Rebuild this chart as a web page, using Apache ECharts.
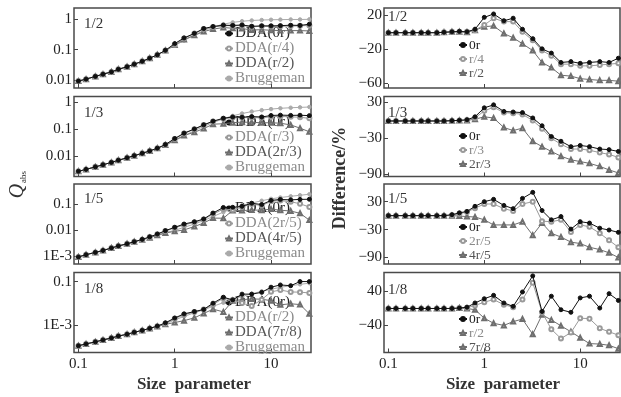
<!DOCTYPE html>
<html>
<head>
<meta charset="utf-8">
<script src="https://cdn.jsdelivr.net/npm/echarts@6/dist/echarts.min.js"></script>
<style>
html, body { margin: 0; padding: 0; background: #fff; }
#chart { width: 621px; height: 397px; }
</style>
</head>
<body>
<div id="chart"></div>
<script>
// size parameter (x) shared by all panels
const sizeParam = [0.1, 0.12, 0.15, 0.18, 0.22, 0.26, 0.32, 0.38, 0.46, 0.55, 0.66, 0.8, 1.0, 1.25, 1.6, 2.0, 2.5, 3.2, 4.0, 5.0, 6.3, 8.0, 10, 12.5, 16, 20, 25];

const fractions = ["1/2", "1/3", "1/5", "1/8"];

// left column: Q_abs
const brugg1 = [0.0095, 0.011, 0.0135, 0.016, 0.019, 0.023, 0.028, 0.034, 0.042, 0.053, 0.068, 0.092, 0.135, 0.2, 0.3, 0.42, 0.55, 0.68, 0.78, 0.85, 0.9, 0.93, 0.95, 0.96, 0.97, 0.97, 0.98];
const dda0r1 = [0.0094, 0.0109, 0.0134, 0.0158, 0.0188, 0.0228, 0.0277, 0.0337, 0.0416, 0.0527, 0.068, 0.095, 0.158, 0.242, 0.34, 0.49, 0.57, 0.63, 0.62, 0.64, 0.58, 0.6, 0.6, 0.61, 0.63, 0.62, 0.68];
const ddaB1 = [0.0094, 0.0109, 0.0134, 0.0158, 0.0188, 0.0228, 0.0277, 0.0337, 0.0416, 0.0527, 0.068, 0.094, 0.146, 0.232, 0.336, 0.47, 0.55, 0.61, 0.61, 0.61, 0.56, 0.58, 0.57, 0.58, 0.59, 0.6, 0.62];
const ddaC1 = [0.0094, 0.0109, 0.0134, 0.0158, 0.0188, 0.0228, 0.0277, 0.0337, 0.0416, 0.0527, 0.068, 0.094, 0.143, 0.214, 0.294, 0.39, 0.47, 0.53, 0.5, 0.49, 0.44, 0.45, 0.43, 0.42, 0.42, 0.42, 0.41];

const brugg2 = [0.0028, 0.0033, 0.0041, 0.0049, 0.006, 0.0072, 0.0089, 0.0107, 0.013, 0.016, 0.02, 0.026, 0.038, 0.058, 0.09, 0.13, 0.18, 0.25, 0.32, 0.39, 0.46, 0.52, 0.57, 0.61, 0.64, 0.66, 0.68];
const dda0r2 = [0.0028, 0.0033, 0.0041, 0.0049, 0.006, 0.0072, 0.0089, 0.0107, 0.013, 0.016, 0.0202, 0.0276, 0.046, 0.073, 0.104, 0.148, 0.203, 0.26, 0.29, 0.285, 0.3, 0.29, 0.33, 0.34, 0.333, 0.337, 0.326];
const ddaB2 = [0.0028, 0.0033, 0.0041, 0.0049, 0.006, 0.0072, 0.0089, 0.0107, 0.013, 0.016, 0.02, 0.027, 0.044, 0.071, 0.102, 0.146, 0.198, 0.25, 0.275, 0.273, 0.276, 0.27, 0.296, 0.305, 0.294, 0.284, 0.258];
const ddaC2 = [0.0028, 0.0033, 0.0041, 0.0049, 0.006, 0.0072, 0.0089, 0.0107, 0.013, 0.016, 0.02, 0.0265, 0.04, 0.06, 0.079, 0.108, 0.157, 0.163, 0.179, 0.187, 0.184, 0.177, 0.177, 0.171, 0.147, 0.112, 0.082];

const brugg3 = [0.0009, 0.0011, 0.00135, 0.0016, 0.002, 0.0024, 0.0029, 0.0035, 0.0042, 0.0051, 0.0063, 0.0078, 0.0097, 0.0125, 0.017, 0.023, 0.033, 0.049, 0.068, 0.09, 0.11, 0.135, 0.16, 0.18, 0.2, 0.22, 0.24];
const dda0r3 = [0.0009, 0.0011, 0.00135, 0.0016, 0.002, 0.0024, 0.0029, 0.0035, 0.0043, 0.0054, 0.0069, 0.0094, 0.0126, 0.0169, 0.0207, 0.0265, 0.045, 0.074, 0.075, 0.082, 0.108, 0.096, 0.139, 0.151, 0.146, 0.152, 0.154];
const ddaB3 = [0.0009, 0.0011, 0.00135, 0.0016, 0.002, 0.0024, 0.0029, 0.0035, 0.0042, 0.0053, 0.0068, 0.009, 0.0121, 0.0156, 0.0196, 0.0253, 0.041, 0.064, 0.06, 0.078, 0.1, 0.088, 0.128, 0.137, 0.124, 0.103, 0.077];
const ddaC3 = [0.0009, 0.0011, 0.00135, 0.0016, 0.002, 0.0024, 0.0029, 0.0035, 0.0042, 0.005, 0.0062, 0.0076, 0.0088, 0.01, 0.0136, 0.0184, 0.0287, 0.0284, 0.057, 0.056, 0.059, 0.058, 0.064, 0.058, 0.054, 0.044, 0.024];

const brugg4 = [0.00012, 0.000145, 0.00018, 0.00022, 0.00027, 0.00033, 0.0004, 0.00049, 0.0006, 0.00074, 0.00092, 0.00118, 0.0018, 0.0026, 0.0038, 0.0052, 0.0075, 0.011, 0.016, 0.021, 0.028, 0.036, 0.045, 0.055, 0.065, 0.075, 0.085];
const dda0r4 = [0.00012, 0.000145, 0.00018, 0.00022, 0.00027, 0.00033, 0.0004, 0.00049, 0.0006, 0.00074, 0.00094, 0.00132, 0.0022, 0.0034, 0.0043, 0.0054, 0.0104, 0.0194, 0.0147, 0.0269, 0.0269, 0.0324, 0.0558, 0.0704, 0.065, 0.1005, 0.1003];
const ddaB4 = [0.00012, 0.000145, 0.00018, 0.00022, 0.00027, 0.00033, 0.0004, 0.00049, 0.0006, 0.00074, 0.00093, 0.00125, 0.00205, 0.0031, 0.0041, 0.0053, 0.009, 0.0176, 0.0144, 0.0105, 0.0078, 0.0151, 0.0342, 0.0413, 0.0338, 0.033, 0.0306];
const ddaC4 = [0.00012, 0.000145, 0.00018, 0.00022, 0.00027, 0.00033, 0.0004, 0.00049, 0.0006, 0.00074, 0.00091, 0.00113, 0.00137, 0.00166, 0.00224, 0.00354, 0.00555, 0.00418, 0.0134, 0.0151, 0.0162, 0.0158, 0.0135, 0.0088, 0.0098, 0.009, 0.0034];

// right column: difference in %
const diff0r1 = [-1, -1, -1, -1, -1, -1, -1, -0.5, 0, 0.5, 0, 3, 17, 21, 13, 16, 3, -8, -20, -25, -36, -35, -37, -36, -35, -36, -31];
const diffB1 = [-1, -1, -1, -1, -1, -1, -1, -0.5, 0, 0, 0, 2, 8, 16, 12, 12, 0, -10, -22, -28, -38, -38, -40, -40, -39, -38, -37];
const diffC1 = [-1, -1, -1, -1, -1, -1, -1, -0.5, 0, 0, -0.5, 2, 6, 7, -2, -7, -14, -22, -36, -42, -51, -52, -55, -56, -57, -57, -58];

const diff0r2 = [-1, -1, -1, -1, -1, -1, -1, -1, -0.5, 0, 1, 6, 21, 26, 15, 14, 13, 4, -9, -27, -35, -44, -42, -44, -48, -49, -52];
const diffB2 = [-1, -1, -1, -1, -1, -1, -1, -1, -0.5, 0, 0.5, 4, 16, 22, 13, 12, 10, 0, -14, -30, -40, -48, -48, -50, -54, -57, -62];
const diffC2 = [-1, -1, -1, -1, -1, -1, -1, -1, -0.5, 0, 0, 2, 6, 4, -12, -17, -13, -35, -44, -52, -60, -66, -69, -72, -77, -83, -88];

const diff0r3 = [0, 0, 0, 0, 0, 0, 0, 0, 2, 6, 9, 20, 30, 35, 22, 15, 37, 50, 11, -9, -2, -29, -13, -16, -27, -31, -36];
const diffB3 = [0, 0, 0, 0, 0, 0, 0, 0, 1, 4, 8, 16, 25, 25, 15, 10, 25, 30, -12, -13, -9, -35, -20, -24, -38, -53, -68];
const diffC3 = [0, 0, 0, 0, 0, 0, 0, 0, 0, -1, -2, -3, -9, -20, -20, -20, -13, -42, -16, -38, -46, -57, -60, -68, -73, -80, -90];

const diff0r4 = [-1, -1, -1, -1, -1, -1, -1, -1, -1, 0, 2, 12, 22, 30, 12, 4, 38, 76, -8, 28, -4, -10, 24, 28, 0, 34, 18];
const diffB4 = [-1, -1, -1, -1, -1, -1, -1, -1, -1, 0, 1, 6, 14, 20, 8, 2, 20, 60, -10, -50, -72, -58, -24, -25, -48, -56, -64];
const diffC4 = [-1, -1, -1, -1, -1, -1, -1, -1, -1, 0, -1, -4, -24, -36, -41, -32, -26, -62, -16, -28, -42, -56, -70, -84, -85, -88, -96];

// legend names
const leftNames = [
  ["DDA(0r)", "DDA(r/4)", "DDA(r/2)", "Bruggeman"],
  ["DDA(0r)", "DDA(r/3)", "DDA(2r/3)", "Bruggeman"],
  ["DDA(0r)", "DDA(2r/5)", "DDA(4r/5)", "Bruggeman"],
  ["DDA(0r)", "DDA(r/2)", "DDA(7r/8)", "Bruggeman"]
];
const rightNames = [
  ["0r", "r/4", "r/2"],
  ["0r", "r/3", "2r/3"],
  ["0r", "2r/5", "4r/5"],
  ["0r", "r/2", "7r/8"]
];

// axis ranges and tick labels
const leftRange = [[0.0056, 2.3], [0.0018, 1.67], [0.00048, 0.6], [0.000059, 0.26]];
const leftTicks = [[0.01, 0.1, 1], [0.01, 0.1, 1], [0.001, 0.01, 0.1], [0.001, 0.1]];
const rightRange = [[-66, 28], [-94, 40], [-104, 68], [-105, 84]];
const rightTicks = [[-60, -20, 20], [-90, -30, 30], [-90, -30, 30], [-40, 40]];
const xTicks = [0.1, 1, 10];

const leftData = [
  [dda0r1, ddaB1, ddaC1, brugg1],
  [dda0r2, ddaB2, ddaC2, brugg2],
  [dda0r3, ddaB3, ddaC3, brugg3],
  [dda0r4, ddaB4, ddaC4, brugg4]
];
const rightData = [
  [diff0r1, diffB1, diffC1],
  [diff0r2, diffB2, diffC2],
  [diff0r3, diffB3, diffC3],
  [diff0r4, diffB4, diffC4]
];

const SERIF = "Liberation Serif";
const rowTop = [8, 96.5, 184, 272.5];
const rowH = 80;
const styles = [
  { color: "#111", symbol: "circle", size: 4 },
  { color: "#9a9a9a", symbol: "emptyCircle", size: 4 },
  { color: "#6e6e6e", symbol: "emptyTriangle", size: 4 },
  { color: "#aaa", symbol: "circle", size: 3.5 }
];
const textColors = ["#222", "#8a8a8a", "#555", "#8a8a8a"];

const chart = echarts.init(document.getElementById("chart"));

const fmtLog = v => (v >= 0.01 ? String(v) : "1E" + Math.round(Math.log10(v)));
const fmtLin = v => (v < 0 ? "\u2212" + Math.abs(v) : String(v));

const grids = [];
const xAxes = [];
const yAxes = [];
const series = [];
const legends = [];
const graphics = [];

const tickStyle = { inside: true, length: 4, lineStyle: { color: "#444", width: 1 } };
const labelStyle = { fontFamily: SERIF, fontSize: 15, color: "#222" };

for (let col = 0; col < 2; col++) {
  for (let row = 0; row < 4; row++) {
    const g = grids.length;
    grids.push({
      left: col === 0 ? 74 : 384,
      width: col === 0 ? 237 : 236,
      top: rowTop[row],
      height: rowH,
      show: true,
      borderColor: "#4a4a4a",
      borderWidth: 1.5
    });
    xAxes.push({
      type: "log",
      gridIndex: g,
      position: "bottom",
      min: 0.09,
      max: 26,
      axisLine: { show: false, onZero: false },
      splitLine: { show: false },
      axisTick: Object.assign({ customValues: xTicks }, tickStyle),
      axisLabel: Object.assign({
        show: row === 3,
        customValues: xTicks,
        margin: 4,
        formatter: v => String(v)
      }, labelStyle)
    });
    if (col === 0) {
      yAxes.push({
        type: "log",
        gridIndex: g,
        min: leftRange[row][0],
        max: leftRange[row][1],
        axisLine: { show: false, onZero: false },
        splitLine: { show: false },
        axisTick: Object.assign({ customValues: leftTicks[row] }, tickStyle),
        axisLabel: Object.assign({ customValues: leftTicks[row], margin: 2, formatter: fmtLog }, labelStyle)
      });
    } else {
      yAxes.push({
        type: "value",
        gridIndex: g,
        min: rightRange[row][0],
        max: rightRange[row][1],
        axisLine: { show: false, onZero: false },
        splitLine: { show: false },
        axisTick: Object.assign({ customValues: rightTicks[row] }, tickStyle),
        axisLabel: Object.assign({ customValues: rightTicks[row], margin: 2, formatter: fmtLin }, labelStyle)
      });
    }

    const names = col === 0 ? leftNames[row] : rightNames[row];
    const sets = col === 0 ? leftData[row] : rightData[row];
    for (let k = sets.length - 1; k >= 0; k--) {
      const st = styles[k];
      series.push({
        name: names[k],
        type: "line",
        xAxisIndex: g,
        yAxisIndex: g,
        data: sizeParam.map((x, i) => [x, sets[k][i]]),
        symbol: st.symbol,
        symbolSize: st.size,
        lineStyle: { color: st.color, width: 1 },
        itemStyle: { color: st.color, borderColor: st.color, borderWidth: 1 },
        z: 10 - k,
        silent: true
      });
    }

    legends.push({
      orient: "vertical",
      left: col === 0 ? 224 : 458,
      top: col === 0 ? [26, 115, 201, 295][row] : [38, 129, 220, 312][row],
      padding: 0,
      itemGap: 0,
      itemWidth: 8,
      itemHeight: 5,
      data: names.map((n, k) => ({ name: n, textStyle: { color: textColors[k] } })),
      textStyle: {
        fontFamily: SERIF,
        fontSize: col === 0 ? 15 : 13.5,
        lineHeight: col === 0 ? 14.7 : 14,
        padding: [0, 0, 0, -3]
      },
      selectedMode: false
    });

    graphics.push({
      type: "text",
      x: col === 0 ? 84 : 388,
      y: col === 0 ? [24, 113, 199, 289][row] : [17, 113, 199, 290][row],
      style: {
        text: fractions[row],
        font: "15px " + SERIF,
        fill: "#333",
        textVerticalAlign: "middle"
      }
    });
  }
}

graphics.push(
  {
    type: "text", x: 194, y: 385,
    style: { text: "Size  parameter", font: "bold 17px " + SERIF, fill: "#333", textAlign: "center", textVerticalAlign: "middle" }
  },
  {
    type: "text", x: 503, y: 385,
    style: { text: "Size  parameter", font: "bold 17px " + SERIF, fill: "#333", textAlign: "center", textVerticalAlign: "middle" }
  },
  {
    type: "text", x: 340, y: 178, rotation: Math.PI / 2,
    style: { text: "Difference/%", font: "bold 18px " + SERIF, fill: "#333", textAlign: "center", textVerticalAlign: "middle" }
  },
  {
    type: "text", x: 18, y: 191, rotation: Math.PI / 2,
    style: { text: "Q", font: "italic 20px " + SERIF, fill: "#333", textAlign: "center", textVerticalAlign: "middle" }
  },
  {
    type: "text", x: 24, y: 177, rotation: Math.PI / 2,
    style: { text: "abs", font: "9px " + SERIF, fill: "#333", textAlign: "center", textVerticalAlign: "middle" }
  }
);

chart.setOption({
  animation: false,
  backgroundColor: "#fff",
  grid: grids,
  xAxis: xAxes,
  yAxis: yAxes,
  legend: legends,
  series: series,
  graphic: graphics
});
</script>
</body>
</html>
